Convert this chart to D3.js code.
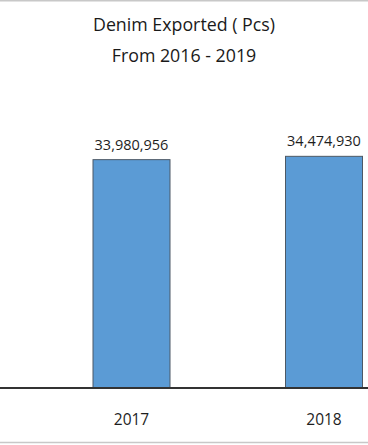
<!DOCTYPE html>
<html><head><meta charset="utf-8">
<script src="https://cdn.jsdelivr.net/npm/d3@7/dist/d3.min.js"></script>
<style>html,body{margin:0;padding:0;background:#fff;overflow:hidden}</style>
</head><body>
<script>
const titleLines = ["Denim Exported ( Pcs)", "From 2016 - 2019"];
const categories = ["2016", "2017", "2018", "2019"];
const visibleYears = ["2017", "2018"];
const visibleValues = [33980956, 34474930];
const yDomain = [0, 40000000];

const W = 368, H = 445;
const svg = d3.select("body").append("svg").attr("width", W).attr("height", H);
const font = "'Open Sans', 'Noto Sans', sans-serif";

// frame lines
svg.append("line").attr("x1",0).attr("x2",W).attr("y1",0.8).attr("y2",0.8).attr("stroke","#c8c8c8").attr("stroke-width",1.6);
svg.append("line").attr("x1",0).attr("x2",W).attr("y1",442.5).attr("y2",442.5).attr("stroke","#c8c8c8").attr("stroke-width",1.6);

const step = 192.5;
const c2016 = -61;
const x = d3.scaleBand().domain(categories)
  .range([c2016 - step/2, c2016 - step/2 + 4*step])
  .paddingInner(0.6).paddingOuter(0.3);
const y = d3.scaleLinear().domain(yDomain).range([388, 388 - 6.72*40]);

const data = visibleYears.map((k,i)=>({k, v: visibleValues[i]}));

svg.selectAll("rect.bar").data(data).join("rect").attr("class","bar")
  .attr("x", d=>x(d.k)).attr("width", x.bandwidth())
  .attr("y", d=>y(d.v)).attr("height", d=>y(0)-y(d.v))
  .attr("fill","#5B9BD5").attr("stroke","#4d5966").attr("stroke-width",1);

// x axis
const xAxis = svg.append("g").attr("transform","translate(0,388)")
  .call(d3.axisBottom(x).tickValues(visibleYears).tickSize(0).tickPadding(0));
xAxis.select(".domain").remove();
xAxis.append("line").attr("x1",0).attr("x2",W).attr("y1",0).attr("y2",0).attr("stroke","#333").attr("stroke-width",2);
xAxis.selectAll(".tick text").attr("y", 37).attr("dy", null)
  .style("font-family", font).style("font-size","15.5px").attr("fill","#1e1e1e");

svg.selectAll("text.val").data(data).join("text").attr("class","val")
  .attr("x", d=>x(d.k)+x.bandwidth()/2).attr("y", d=>y(d.v)-10)
  .attr("text-anchor","middle").style("font-family", font).style("font-size","14.5px").attr("fill","#1e1e1e")
  .text(d=>d3.format(",")(d.v));

svg.selectAll("text.title").data(titleLines).join("text").attr("class","title")
  .attr("x", 184).attr("y", (d,i)=>31 + i*31)
  .attr("text-anchor","middle").style("font-family", font).style("font-size","17.8px").attr("fill","#1a1a1a")
  .text(d=>d);
</script>
</body></html>
